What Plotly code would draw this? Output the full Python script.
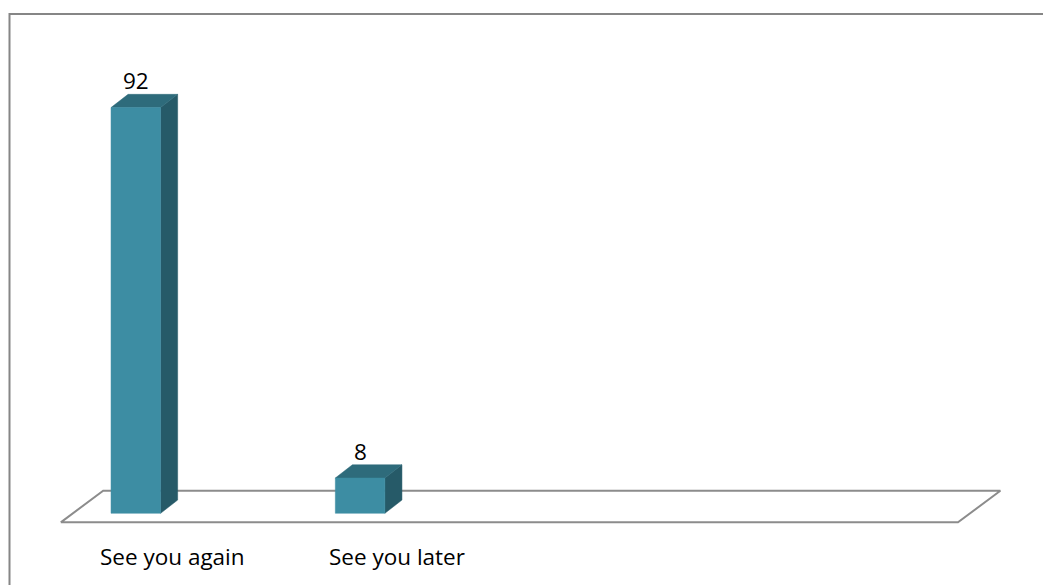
import plotly.graph_objects as go

# Survey answers
categories = ["See you again", "See you later"]
values = [92, 8]
n_slots = 4  # the floor is laid out for four category slots

# Colours of the pseudo-3D column faces
FRONT = "rgb(61,141,163)"
TOP = "rgb(46,107,123)"
SIDE = "rgb(38,90,104)"
FLOOR = "rgb(140,140,140)"

# Geometry in axis units (x: category slots, y: value units)
bar_left = -0.276     # front-face left edge relative to slot centre
bar_w = 0.221         # front-face width
depth_dx = 0.076      # horizontal depth offset of the column
depth_dy = 3.0        # vertical depth offset of the column
floor_front = -2.05
floor_back = 5.12
floor_shift = 0.189

W, H = 1043, 585
x_range = [-0.771, 3.879]
y_range = [-16.26, 116.39]

fig = go.Figure()

# floor parallelogram
fx = [-0.5, n_slots - 0.5, n_slots - 0.5 + floor_shift, -0.5 + floor_shift, -0.5]
fy = [floor_front, floor_front, floor_back, floor_back, floor_front]
fig.add_trace(go.Scatter(x=fx, y=fy, mode="lines",
                         line=dict(color=FLOOR, width=2),
                         hoverinfo="skip", showlegend=False))

# columns: front, top and side faces
front_x, front_y, top_x, top_y, side_x, side_y = [], [], [], [], [], []
for i, v in enumerate(values):
    x0 = i + bar_left
    x1 = x0 + bar_w
    front_x += [x0, x1, x1, x0, x0, None]
    front_y += [0, 0, v, v, 0, None]
    top_x += [x0, x1, x1 + depth_dx, x0 + depth_dx, x0, None]
    top_y += [v, v, v + depth_dy, v + depth_dy, v, None]
    side_x += [x1, x1 + depth_dx, x1 + depth_dx, x1, x1, None]
    side_y += [0, depth_dy, v + depth_dy, v, 0, None]

for xs, ys, col in [(side_x, side_y, SIDE), (top_x, top_y, TOP), (front_x, front_y, FRONT)]:
    fig.add_trace(go.Scatter(x=xs, y=ys, mode="lines", fill="toself",
                             fillcolor=col, line=dict(color=col, width=0.5),
                             hoverinfo="skip", showlegend=False))

font = dict(family="Open Sans", size=22.5, color="black")

# value labels above each column
for i, v in enumerate(values):
    fig.add_annotation(x=i + bar_left + bar_w / 2, y=v + depth_dy, text=str(v),
                       showarrow=False, yanchor="bottom", xanchor="center",
                       font=font, yshift=-4)

# category labels under the floor
for i, c in enumerate(categories):
    fig.add_annotation(x=i, y=-9.7, text=c, showarrow=False,
                       yanchor="middle", xanchor="center", font=font)

# chart border
fig.add_shape(type="rect", xref="paper", yref="paper",
              x0=9.5 / W, x1=1.05, y0=-0.05, y1=1 - 14 / H,
              line=dict(color="rgb(134,134,134)", width=2))

fig.update_layout(
    width=W, height=H,
    margin=dict(l=0, r=0, t=0, b=0),
    paper_bgcolor="white", plot_bgcolor="white",
    xaxis=dict(range=x_range, visible=False, fixedrange=True),
    yaxis=dict(range=y_range, visible=False, fixedrange=True),
)

fig.write_html("out.html")
